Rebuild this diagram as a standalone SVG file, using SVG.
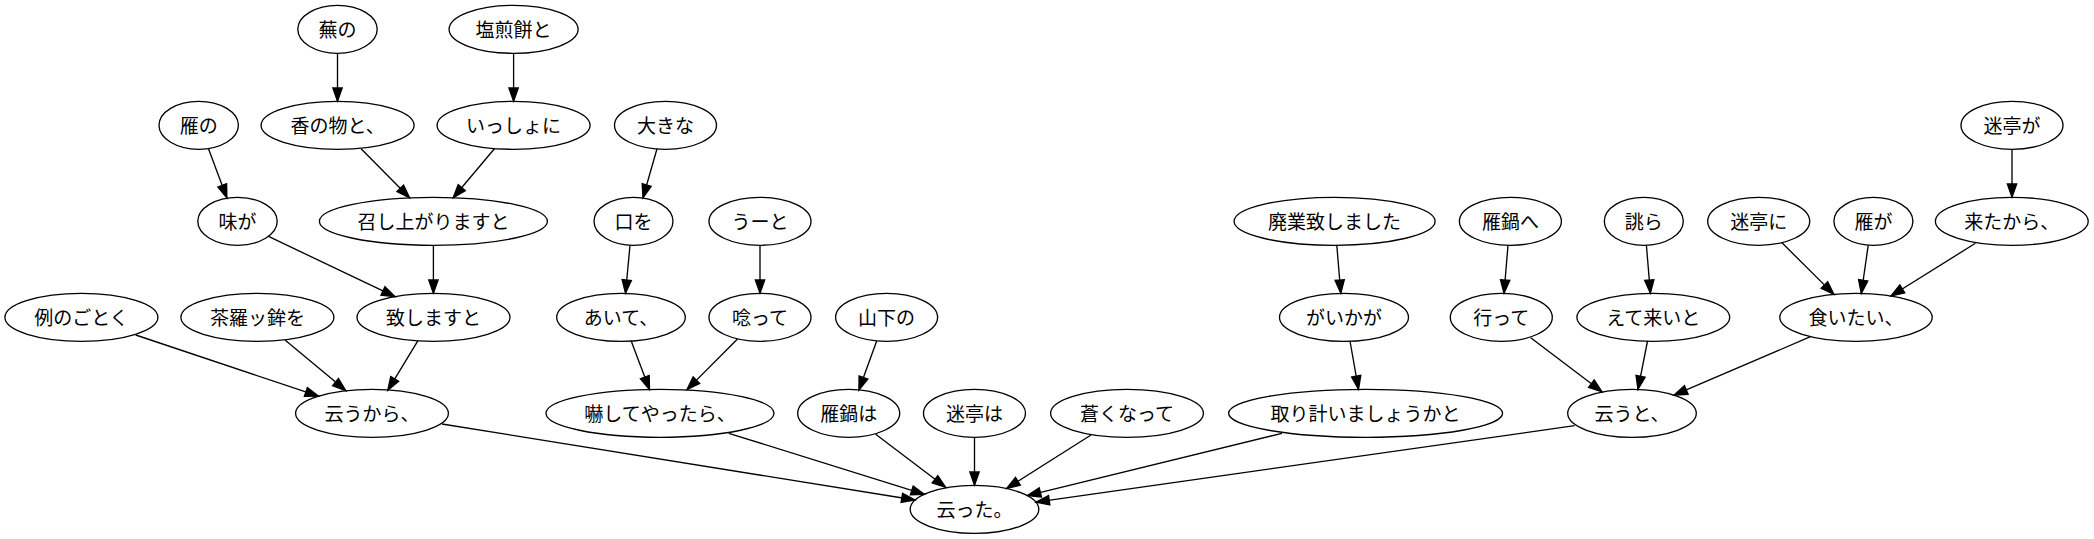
<svg xmlns="http://www.w3.org/2000/svg" width="2094" height="539" viewBox="0 0 2094 539">
<style>
ellipse{fill:none;stroke:#000;stroke-width:1.33}
text{font-family:"Noto Sans CJK JP","Noto Sans CJK SC",sans-serif;font-size:19px;text-anchor:middle;dominant-baseline:central;fill:#000}
.e line{stroke:#000;stroke-width:1.33;marker-end:url(#ah)}
</style>
<defs>
<marker id="ah" markerUnits="userSpaceOnUse" markerWidth="16" markerHeight="12" refX="13.33" refY="4.67" orient="auto" overflow="visible">
<path d="M0,0 L13.33,4.67 L0,9.33 Z" fill="#000" stroke="#000" stroke-width="1.33"/>
</marker>
</defs>
<rect width="2094" height="539" fill="#fff"/>
<g class="e" id="edges">
<line x1="337.5" y1="53.3" x2="337.5" y2="101.3"/>
<line x1="513.6" y1="53.3" x2="513.6" y2="101.3"/>
<line x1="208.4" y1="148.5" x2="226.9" y2="197.9"/>
<line x1="361.1" y1="148.7" x2="409.6" y2="197.8"/>
<line x1="494.4" y1="148.7" x2="453.2" y2="197.8"/>
<line x1="657" y1="148.7" x2="643" y2="197.8"/>
<line x1="268.5" y1="236.4" x2="395" y2="296.7"/>
<line x1="433.4" y1="245.3" x2="433.4" y2="293.3"/>
<line x1="630" y1="245.3" x2="625.5" y2="293.3"/>
<line x1="760" y1="245.3" x2="760" y2="293.3"/>
<line x1="135.7" y1="335" x2="318.5" y2="396.2"/>
<line x1="285" y1="340" x2="345.8" y2="390.6"/>
<line x1="417.8" y1="340.8" x2="387.8" y2="390.3"/>
<line x1="631" y1="340.5" x2="649.5" y2="389.6"/>
<line x1="737.5" y1="339" x2="687" y2="389.6"/>
<line x1="876.7" y1="341" x2="858.9" y2="390"/>
<line x1="442" y1="424" x2="915" y2="500"/>
<line x1="728.8" y1="433.3" x2="924.5" y2="494.4"/>
<line x1="875.7" y1="434.3" x2="945.6" y2="487.3"/>
<line x1="974.5" y1="437.3" x2="974.5" y2="485.3"/>
<line x1="1091" y1="435" x2="1006.7" y2="488.4"/>
<line x1="1282" y1="433.3" x2="1027.4" y2="495.6"/>
<line x1="1574.6" y1="425.7" x2="1036" y2="502.1"/>
<line x1="1336.8" y1="245.3" x2="1340.8" y2="293.3"/>
<line x1="1350" y1="341" x2="1358.5" y2="389.3"/>
<line x1="1508" y1="245.3" x2="1504" y2="293.3"/>
<line x1="1646.4" y1="245.3" x2="1650.4" y2="293.3"/>
<line x1="2012" y1="149.3" x2="2012" y2="197.3"/>
<line x1="1781.5" y1="242.3" x2="1833.9" y2="294.4"/>
<line x1="1868.2" y1="245.3" x2="1861.3" y2="293.5"/>
<line x1="1975.4" y1="243.3" x2="1891" y2="296"/>
<line x1="1530.7" y1="337.7" x2="1602" y2="391.7"/>
<line x1="1647.5" y1="341" x2="1638" y2="389.3"/>
<line x1="1810.5" y1="336.7" x2="1674" y2="395.2"/>
</g>
<g id="n1"><ellipse cx="337.5" cy="29.3" rx="39.7" ry="24"/><text x="337.5" y="28.5">蕪の</text></g>
<g id="n2"><ellipse cx="513.6" cy="29.3" rx="64.5" ry="24"/><text x="513.6" y="28.5">塩煎餅と</text></g>
<g id="n3"><ellipse cx="198.7" cy="125.3" rx="39.7" ry="24"/><text x="198.7" y="124.5">雁の</text></g>
<g id="n4"><ellipse cx="337.6" cy="125.3" rx="76.5" ry="24"/><text x="337.6" y="124.5">香の物と、</text></g>
<g id="n5"><ellipse cx="513.6" cy="125.3" rx="76.5" ry="24"/><text x="513.6" y="124.5">いっしょに</text></g>
<g id="n6"><ellipse cx="665.5" cy="125.3" rx="51" ry="24"/><text x="665.5" y="124.5">大きな</text></g>
<g id="n7"><ellipse cx="2012" cy="125.3" rx="51" ry="24"/><text x="2012" y="124.5">迷亭が</text></g>
<g id="n8"><ellipse cx="237.5" cy="221.3" rx="39.7" ry="24"/><text x="237.5" y="220.5">味が</text></g>
<g id="n9"><ellipse cx="433.4" cy="221.3" rx="114" ry="24"/><text x="433.4" y="220.5">召し上がりますと</text></g>
<g id="n10"><ellipse cx="633.5" cy="221.3" rx="39.5" ry="24"/><text x="633.5" y="220.5">口を</text></g>
<g id="n11"><ellipse cx="760" cy="221.3" rx="51" ry="24"/><text x="760" y="220.5">うーと</text></g>
<g id="n12"><ellipse cx="1334.6" cy="221.3" rx="100.5" ry="24"/><text x="1334.6" y="220.5">廃業致しました</text></g>
<g id="n13"><ellipse cx="1510.4" cy="221.3" rx="51" ry="24"/><text x="1510.4" y="220.5">雁鍋へ</text></g>
<g id="n14"><ellipse cx="1643.8" cy="221.3" rx="39.5" ry="24"/><text x="1643.8" y="220.5">誂ら</text></g>
<g id="n15"><ellipse cx="1758.7" cy="221.3" rx="51" ry="24"/><text x="1758.7" y="220.5">迷亭に</text></g>
<g id="n16"><ellipse cx="1873.4" cy="221.3" rx="39.5" ry="24"/><text x="1873.4" y="220.5">雁が</text></g>
<g id="n17"><ellipse cx="2011.8" cy="221.3" rx="76.4" ry="24"/><text x="2011.8" y="220.5">来たから、</text></g>
<g id="n18"><ellipse cx="81.4" cy="317.3" rx="76.5" ry="24"/><text x="81.4" y="316.5">例のごとく</text></g>
<g id="n19"><ellipse cx="257.4" cy="317.3" rx="76.5" ry="24"/><text x="257.4" y="316.5">茶羅ッ鉾を</text></g>
<g id="n20"><ellipse cx="433.5" cy="317.3" rx="76.5" ry="24"/><text x="433.5" y="316.5">致しますと</text></g>
<g id="n21"><ellipse cx="621" cy="317.3" rx="64.3" ry="24"/><text x="621" y="316.5">あいて、</text></g>
<g id="n22"><ellipse cx="760" cy="317.3" rx="51" ry="24"/><text x="760" y="316.5">唸って</text></g>
<g id="n23"><ellipse cx="886.6" cy="317.3" rx="51" ry="24"/><text x="886.6" y="316.5">山下の</text></g>
<g id="n24"><ellipse cx="1344" cy="317.3" rx="64.5" ry="24"/><text x="1344" y="316.5">がいかが</text></g>
<g id="n25"><ellipse cx="1501.3" cy="317.3" rx="51" ry="24"/><text x="1501.3" y="316.5">行って</text></g>
<g id="n26"><ellipse cx="1653.3" cy="317.3" rx="76.4" ry="24"/><text x="1653.3" y="316.5">えて来いと</text></g>
<g id="n27"><ellipse cx="1856" cy="317.3" rx="76.2" ry="24"/><text x="1856" y="316.5">食いたい、</text></g>
<g id="n28"><ellipse cx="372" cy="413.3" rx="76.4" ry="24"/><text x="372" y="412.5">云うから、</text></g>
<g id="n29"><ellipse cx="660" cy="413.3" rx="114" ry="24"/><text x="660" y="412.5">嚇してやったら、</text></g>
<g id="n30"><ellipse cx="848.7" cy="413.3" rx="51" ry="24"/><text x="848.7" y="412.5">雁鍋は</text></g>
<g id="n31"><ellipse cx="974.5" cy="413.3" rx="51" ry="24"/><text x="974.5" y="412.5">迷亭は</text></g>
<g id="n32"><ellipse cx="1127" cy="413.3" rx="76.4" ry="24"/><text x="1127" y="412.5">蒼くなって</text></g>
<g id="n33"><ellipse cx="1365.6" cy="413.3" rx="137" ry="24"/><text x="1365.6" y="412.5">取り計いましょうかと</text></g>
<g id="n34"><ellipse cx="1632" cy="413.3" rx="64.3" ry="24"/><text x="1632" y="412.5">云うと、</text></g>
<g id="n35"><ellipse cx="974.5" cy="509.3" rx="64.3" ry="24"/><text x="974.5" y="508.5">云った。</text></g>
</svg>
